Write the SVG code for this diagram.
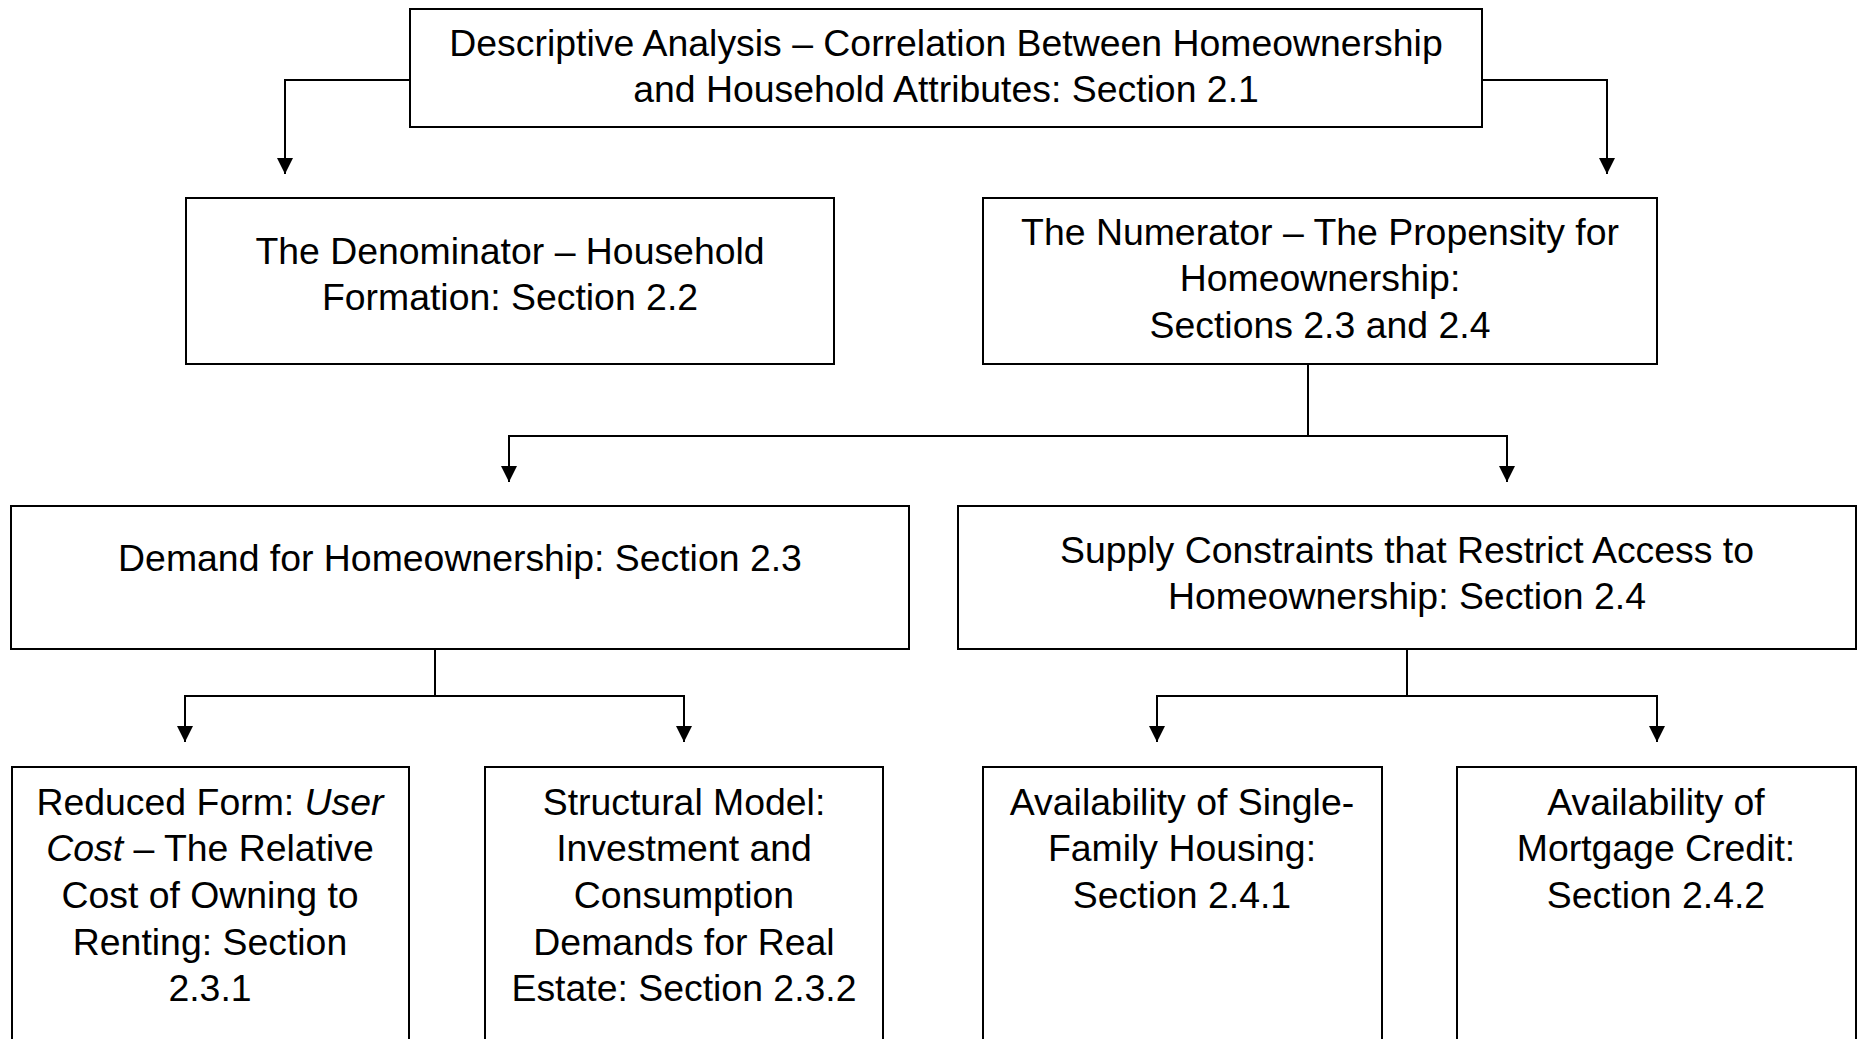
<svg xmlns="http://www.w3.org/2000/svg" width="1865" height="1039" viewBox="0 0 1865 1039">
  <style>
    .box { fill: #ffffff; stroke: #000000; stroke-width: 2; }
    .lbl { font-family: "Liberation Sans", Arial, sans-serif; font-size: 37.4px; fill: #000000; text-anchor: middle; }
    .conn { fill: none; stroke: #000000; stroke-width: 2; }
    .it { font-style: italic; }
  </style>
  <defs>
    <marker id="arrow" markerUnits="userSpaceOnUse" markerWidth="16" markerHeight="16" viewBox="0 0 16 16" refX="16" refY="8" orient="auto">
      <path d="M0,0 L16,8 L0,16 z" fill="#000000"/>
    </marker>
  </defs>
  <rect width="1865" height="1039" fill="#ffffff"/>

  <g id="connectors">
    <path class="conn" d="M410,80 H285 V174" marker-end="url(#arrow)"/>
    <path class="conn" d="M1482,80 H1607 V174" marker-end="url(#arrow)"/>
    <path class="conn" d="M1308,364 V436"/>
    <path class="conn" d="M1308,436 H509 V482" marker-end="url(#arrow)"/>
    <path class="conn" d="M1308,436 H1507 V482" marker-end="url(#arrow)"/>
    <path class="conn" d="M435,649 V696"/>
    <path class="conn" d="M435,696 H185 V742" marker-end="url(#arrow)"/>
    <path class="conn" d="M435,696 H684 V742" marker-end="url(#arrow)"/>
    <path class="conn" d="M1407,649 V696"/>
    <path class="conn" d="M1407,696 H1157 V742" marker-end="url(#arrow)"/>
    <path class="conn" d="M1407,696 H1657 V742" marker-end="url(#arrow)"/>
  </g>

  <g id="node-descriptive">
    <rect class="box" x="410" y="9" width="1072" height="118"/>
    <text class="lbl" x="946" y="56">Descriptive Analysis – Correlation Between Homeownership</text>
    <text class="lbl" x="946" y="102">and Household Attributes: Section 2.1</text>
  </g>

  <g id="node-denominator">
    <rect class="box" x="186" y="198" width="648" height="166"/>
    <text class="lbl" x="510" y="264">The Denominator – Household</text>
    <text class="lbl" x="510" y="310">Formation: Section 2.2</text>
  </g>

  <g id="node-numerator">
    <rect class="box" x="983" y="198" width="674" height="166"/>
    <text class="lbl" x="1320" y="245">The Numerator – The Propensity for</text>
    <text class="lbl" x="1320" y="291">Homeownership:</text>
    <text class="lbl" x="1320" y="338">Sections 2.3 and 2.4</text>
  </g>

  <g id="node-demand">
    <rect class="box" x="11" y="506" width="898" height="143"/>
    <text class="lbl" x="460" y="571">Demand for Homeownership: Section 2.3</text>
  </g>

  <g id="node-supply">
    <rect class="box" x="958" y="506" width="898" height="143"/>
    <text class="lbl" x="1407" y="563">Supply Constraints that Restrict Access to</text>
    <text class="lbl" x="1407" y="609">Homeownership: Section 2.4</text>
  </g>

  <g id="node-reduced-form">
    <rect class="box" x="12" y="767" width="397" height="300"/>
    <text class="lbl" x="210" y="815">Reduced Form: <tspan class="it">User</tspan></text>
    <text class="lbl" x="210" y="861"><tspan class="it">Cost</tspan> – The Relative</text>
    <text class="lbl" x="210" y="908">Cost of Owning to</text>
    <text class="lbl" x="210" y="955">Renting: Section</text>
    <text class="lbl" x="210" y="1001">2.3.1</text>
  </g>

  <g id="node-structural">
    <rect class="box" x="485" y="767" width="398" height="300"/>
    <text class="lbl" x="684" y="815">Structural Model:</text>
    <text class="lbl" x="684" y="861">Investment and</text>
    <text class="lbl" x="684" y="908">Consumption</text>
    <text class="lbl" x="684" y="955">Demands for Real</text>
    <text class="lbl" x="684" y="1001">Estate: Section 2.3.2</text>
  </g>

  <g id="node-single-family">
    <rect class="box" x="983" y="767" width="399" height="300"/>
    <text class="lbl" x="1182" y="815">Availability of Single-</text>
    <text class="lbl" x="1182" y="861">Family Housing:</text>
    <text class="lbl" x="1182" y="908">Section 2.4.1</text>
  </g>

  <g id="node-mortgage">
    <rect class="box" x="1457" y="767" width="399" height="300"/>
    <text class="lbl" x="1656" y="815">Availability of</text>
    <text class="lbl" x="1656" y="861">Mortgage Credit:</text>
    <text class="lbl" x="1656" y="908">Section 2.4.2</text>
  </g>
</svg>
